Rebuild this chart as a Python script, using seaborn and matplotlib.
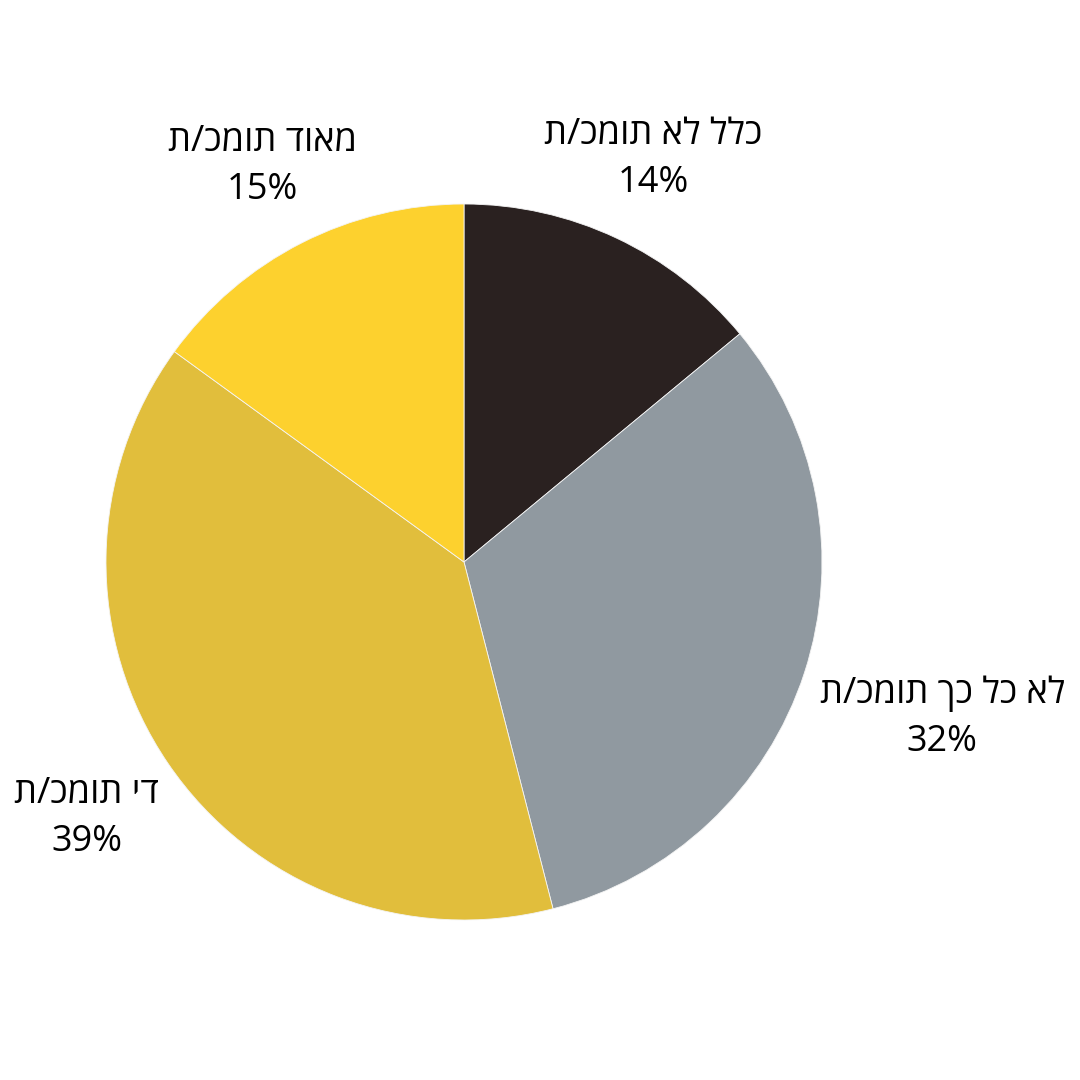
import seaborn as sns
import numpy as np
import matplotlib.pyplot as plt

# ---- data ----
labels = ["כלל לא תומכ/ת", "לא כל כך תומכ/ת", "די תומכ/ת", "מאוד תומכ/ת"]
shares = [14, 32, 39, 15]
colors = ["#2a2120", "#9099a0", "#e1be3c", "#fdd12e"]
label_dist = [1.243, 1.405, 1.274, 1.242]

sns.set_theme(style="white")
plt.rcParams['font.family'] = ['Open Sans', 'DejaVu Sans']

fig = plt.figure(figsize=(10.8, 10.8), dpi=100)
ax = fig.add_axes([0, 0, 1, 1])

r_px = 358
cx, cy = 464, 1080 - 562
ax.pie(shares, colors=sns.color_palette(colors), startangle=90, counterclock=False,
       radius=1, wedgeprops=dict(linewidth=0.6, edgecolor="#f4f4f4"))

# labels: matplotlib has no bidi, so flip hebrew by hand
start = 90
for lab, val, d in zip(labels, shares, label_dist):
    mid = np.deg2rad(start - val * 3.6 / 2)
    start -= val * 3.6
    x, y = d * np.cos(mid), d * np.sin(mid)
    ax.text(x, y, lab[::-1] + "\n" + f"{val}%", ha="center", va="center",
            fontsize=26, linespacing=1.45, color="black")

ax.set_xlim(-cx / r_px, (1080 - cx) / r_px)
ax.set_ylim(-cy / r_px, (1080 - cy) / r_px)
ax.set_aspect("equal")
ax.axis("off")

fig.savefig("out.png", dpi=100, facecolor="white")
